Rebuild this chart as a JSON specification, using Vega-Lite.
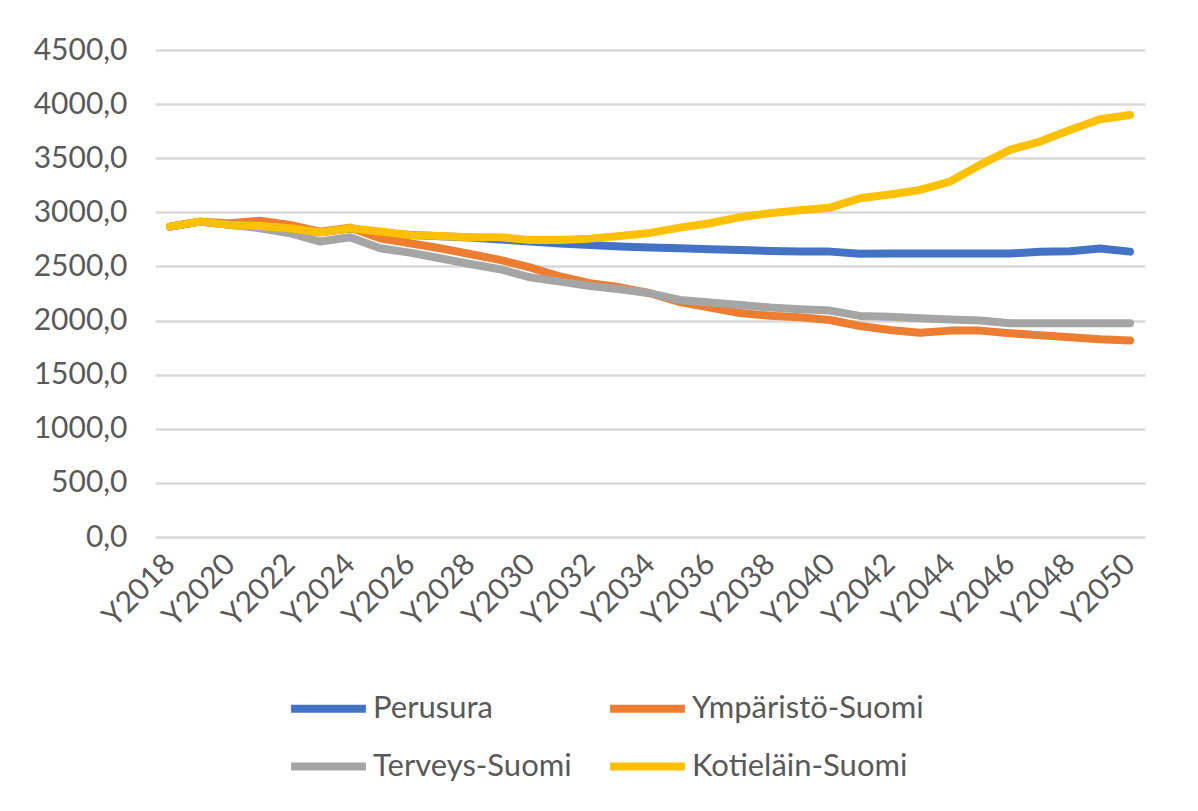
{
  "$schema": "https://vega.github.io/schema/vega-lite/v6.json",
  "width": 990,
  "height": 487,
  "autosize": {"type": "none"},
  "padding": {"left": 155, "top": 50, "right": 53, "bottom": 274},
  "background": "white",
  "config": {
    "view": {"stroke": null},
    "font": "Lato",
    "axis": {"labelFont": "Lato", "labelColor": "#595959", "labelFontSize": 30}
  },
  "data": {"values": [
    {"year": "Y2018", "Perusura": 2868, "Ympäristö-Suomi": 2868, "Terveys-Suomi": 2868, "Kotieläin-Suomi": 2868},
    {"year": "Y2019", "Perusura": 2914, "Ympäristö-Suomi": 2914, "Terveys-Suomi": 2914, "Kotieläin-Suomi": 2914},
    {"year": "Y2020", "Perusura": 2884, "Ympäristö-Suomi": 2900, "Terveys-Suomi": 2884, "Kotieläin-Suomi": 2884},
    {"year": "Y2021", "Perusura": 2870, "Ympäristö-Suomi": 2923, "Terveys-Suomi": 2853, "Kotieläin-Suomi": 2874},
    {"year": "Y2022", "Perusura": 2850, "Ympäristö-Suomi": 2884, "Terveys-Suomi": 2807, "Kotieläin-Suomi": 2853},
    {"year": "Y2023", "Perusura": 2815, "Ympäristö-Suomi": 2822, "Terveys-Suomi": 2730, "Kotieläin-Suomi": 2813},
    {"year": "Y2024", "Perusura": 2850, "Ympäristö-Suomi": 2859, "Terveys-Suomi": 2770, "Kotieläin-Suomi": 2853},
    {"year": "Y2025", "Perusura": 2810, "Ympäristö-Suomi": 2761, "Terveys-Suomi": 2668, "Kotieläin-Suomi": 2822},
    {"year": "Y2026", "Perusura": 2790, "Ympäristö-Suomi": 2714, "Terveys-Suomi": 2628, "Kotieläin-Suomi": 2791},
    {"year": "Y2027", "Perusura": 2778, "Ympäristö-Suomi": 2668, "Terveys-Suomi": 2576, "Kotieläin-Suomi": 2782},
    {"year": "Y2028", "Perusura": 2768, "Ympäristö-Suomi": 2615, "Terveys-Suomi": 2523, "Kotieläin-Suomi": 2770},
    {"year": "Y2029", "Perusura": 2750, "Ympäristö-Suomi": 2560, "Terveys-Suomi": 2474, "Kotieläin-Suomi": 2770},
    {"year": "Y2030", "Perusura": 2730, "Ympäristö-Suomi": 2492, "Terveys-Suomi": 2400, "Kotieläin-Suomi": 2745},
    {"year": "Y2031", "Perusura": 2712, "Ympäristö-Suomi": 2407, "Terveys-Suomi": 2360, "Kotieläin-Suomi": 2745},
    {"year": "Y2032", "Perusura": 2699, "Ympäristö-Suomi": 2345, "Terveys-Suomi": 2320, "Kotieläin-Suomi": 2757},
    {"year": "Y2033", "Perusura": 2685, "Ympäristö-Suomi": 2307, "Terveys-Suomi": 2289, "Kotieläin-Suomi": 2782},
    {"year": "Y2034", "Perusura": 2674, "Ympäristö-Suomi": 2252, "Terveys-Suomi": 2252, "Kotieläin-Suomi": 2810},
    {"year": "Y2035", "Perusura": 2668, "Ympäristö-Suomi": 2170, "Terveys-Suomi": 2190, "Kotieläin-Suomi": 2859},
    {"year": "Y2036", "Perusura": 2658, "Ympäristö-Suomi": 2120, "Terveys-Suomi": 2166, "Kotieläin-Suomi": 2899},
    {"year": "Y2037", "Perusura": 2652, "Ympäristö-Suomi": 2070, "Terveys-Suomi": 2144, "Kotieläin-Suomi": 2955},
    {"year": "Y2038", "Perusura": 2643, "Ympäristö-Suomi": 2045, "Terveys-Suomi": 2120, "Kotieläin-Suomi": 2992},
    {"year": "Y2039", "Perusura": 2637, "Ympäristö-Suomi": 2030, "Terveys-Suomi": 2105, "Kotieläin-Suomi": 3020},
    {"year": "Y2040", "Perusura": 2637, "Ympäristö-Suomi": 2005, "Terveys-Suomi": 2092, "Kotieläin-Suomi": 3043},
    {"year": "Y2041", "Perusura": 2618, "Ympäristö-Suomi": 1950, "Terveys-Suomi": 2043, "Kotieläin-Suomi": 3130},
    {"year": "Y2042", "Perusura": 2620, "Ympäristö-Suomi": 1913, "Terveys-Suomi": 2035, "Kotieläin-Suomi": 3165},
    {"year": "Y2043", "Perusura": 2620, "Ympäristö-Suomi": 1888, "Terveys-Suomi": 2021, "Kotieläin-Suomi": 3207},
    {"year": "Y2044", "Perusura": 2620, "Ympäristö-Suomi": 1907, "Terveys-Suomi": 2010, "Kotieläin-Suomi": 3284},
    {"year": "Y2045", "Perusura": 2620, "Ympäristö-Suomi": 1907, "Terveys-Suomi": 2000, "Kotieläin-Suomi": 3438},
    {"year": "Y2046", "Perusura": 2620, "Ympäristö-Suomi": 1883, "Terveys-Suomi": 1975, "Kotieläin-Suomi": 3577},
    {"year": "Y2047", "Perusura": 2635, "Ympäristö-Suomi": 1864, "Terveys-Suomi": 1975, "Kotieläin-Suomi": 3654},
    {"year": "Y2048", "Perusura": 2640, "Ympäristö-Suomi": 1846, "Terveys-Suomi": 1975, "Kotieläin-Suomi": 3761},
    {"year": "Y2049", "Perusura": 2665, "Ympäristö-Suomi": 1827, "Terveys-Suomi": 1975, "Kotieläin-Suomi": 3860},
    {"year": "Y2050", "Perusura": 2637, "Ympäristö-Suomi": 1815, "Terveys-Suomi": 1975, "Kotieläin-Suomi": 3900}
  ]},
  "transform": [
    {"fold": ["Perusura", "Ympäristö-Suomi", "Terveys-Suomi", "Kotieläin-Suomi"], "as": ["series", "value"]}
  ],
  "mark": {"type": "line", "strokeWidth": 8, "strokeCap": "round", "strokeJoin": "round"},
  "encoding": {
    "x": {
      "field": "year", "type": "nominal", "sort": null,
      "scale": {"type": "point", "padding": 0.5},
      "axis": {
        "title": null, "domain": false, "ticks": false, "grid": false,
        "labelAngle": -45, "labelAlign": "right", "labelBaseline": "middle", "labelPadding": 22,
        "values": ["Y2018","Y2020","Y2022","Y2024","Y2026","Y2028","Y2030","Y2032","Y2034","Y2036","Y2038","Y2040","Y2042","Y2044","Y2046","Y2048","Y2050"]
      }
    },
    "y": {
      "field": "value", "type": "quantitative",
      "scale": {"domain": [0, 4500], "nice": false},
      "axis": {
        "title": null, "domain": false, "ticks": false,
        "values": [0, 500, 1000, 1500, 2000, 2500, 3000, 3500, 4000, 4500],
        "labelExpr": "replace(format(datum.value, '.1f'), '.', ',')",
        "labelPadding": 28, "gridColor": "#d9d9d9", "gridWidth": 2.5
      }
    },
    "color": {
      "field": "series", "type": "nominal",
      "scale": {"domain": ["Perusura", "Ympäristö-Suomi", "Terveys-Suomi", "Kotieläin-Suomi"], "range": ["#4472C4", "#ED7D31", "#A5A5A5", "#FFC000"]},
      "legend": {
        "title": null, "orient": "none", "legendX": 132, "legendY": 617,
        "columns": 2, "direction": "horizontal",
        "symbolType": "stroke", "symbolSize": 5600, "symbolStrokeWidth": 8,
        "labelFont": "Lato", "labelFontSize": 31, "labelColor": "#595959", "labelOffset": 3,
        "rowPadding": -12, "columnPadding": 22, "padding": 0, "labelLimit": 400
      }
    }
  }
}
